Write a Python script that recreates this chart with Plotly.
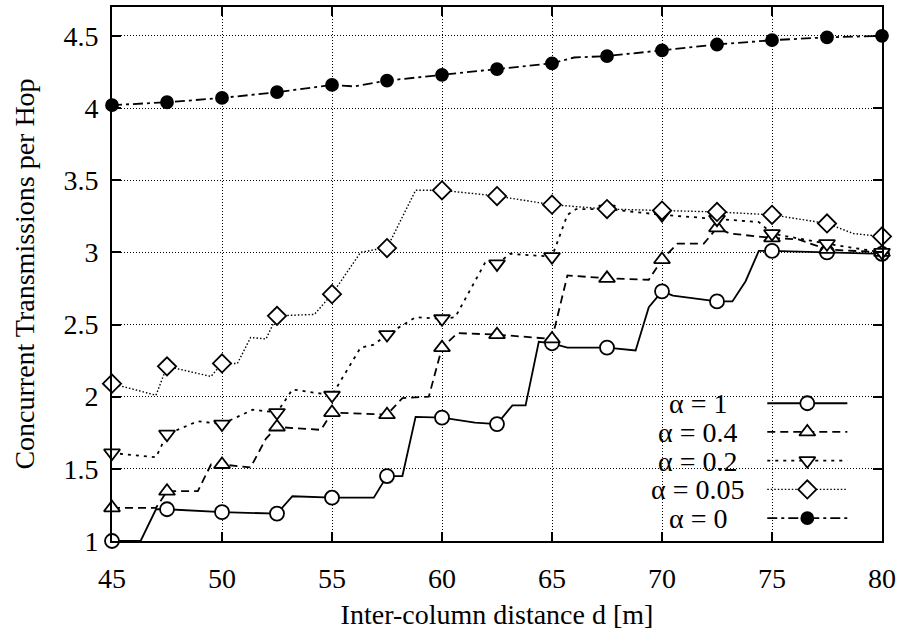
import plotly.graph_objects as go

# ---------------- data ----------------
x_a1 = [45, 46.3, 47.0, 47.5, 50, 52.5, 53.2, 55, 56.9, 57.5, 58.2, 58.8, 60, 61.5, 62.5,
        63.2, 63.8, 64.4, 65, 65.7, 67.5, 68.8, 69.4, 70, 70.5, 72.5, 73.2, 73.8, 74.4, 75, 77.5, 80]
y_a1 = [1.00, 1.00, 1.22, 1.22, 1.20, 1.19, 1.31, 1.30, 1.30, 1.45, 1.45, 1.86, 1.855, 1.82, 1.81,
        1.94, 1.94, 2.38, 2.37, 2.34, 2.34, 2.32, 2.62, 2.73, 2.70, 2.66, 2.66, 2.80, 3.01, 3.01, 3.00, 2.99]

x_a04 = [45, 47.0, 47.5, 48.9, 49.5, 50, 51.3, 52.0, 52.5, 53.5, 54.5, 55, 57.5, 58.2, 59.4, 60,
         60.7, 62.5, 65, 65.7, 67.5, 69.4, 70, 70.7, 71.9, 72.5, 73.1, 75, 76.2, 77.5, 80]
y_a04 = [1.23, 1.23, 1.345, 1.345, 1.53, 1.53, 1.51, 1.71, 1.79, 1.78, 1.77, 1.89, 1.875, 1.99, 2.00, 2.34,
         2.44, 2.43, 2.40, 2.84, 2.82, 2.81, 2.95, 3.06, 3.06, 3.17, 3.13, 3.10, 3.09, 3.02, 3.00]

x_a02 = [45, 47.0, 47.5, 48.9, 50, 51.4, 52.5, 53.2, 55, 56.3, 56.9, 57.5, 58.8, 60, 60.6, 62.0,
         62.5, 63.1, 65, 65.7, 66.1, 67.5, 70, 72.5, 74.4, 75, 77.5, 80]
y_a02 = [1.61, 1.58, 1.74, 1.83, 1.81, 1.91, 1.89, 2.05, 2.01, 2.34, 2.36, 2.43, 2.55, 2.54, 2.55, 2.94,
         2.92, 2.99, 2.97, 3.26, 3.30, 3.30, 3.26, 3.23, 3.21, 3.13, 3.06, 3.00]

x_a005 = [45, 47.0, 47.5, 49.5, 50, 50.7, 51.3, 52.0, 52.5, 54.2, 55, 56.3, 57.0, 57.5, 58.8, 60,
          62.5, 65, 67.5, 70, 72.5, 75, 77.5, 78.7, 80]
y_a005 = [2.09, 2.01, 2.21, 2.14, 2.23, 2.23, 2.41, 2.40, 2.56, 2.57, 2.71, 3.00, 3.02, 3.03, 3.43, 3.43,
          3.39, 3.33, 3.30, 3.29, 3.28, 3.26, 3.20, 3.13, 3.11]

x_a0 = [45, 47.5, 50, 52.5, 55, 56, 57.5, 60, 62.5, 65, 66, 67.5, 70, 72.5, 75, 77.5, 80]
y_a0 = [4.02, 4.04, 4.07, 4.11, 4.16, 4.15, 4.19, 4.23, 4.27, 4.31, 4.35, 4.36, 4.40, 4.44, 4.47, 4.49, 4.50]

series_names = ["α = 1", "α = 0.4", "α = 0.2", "α = 0.05", "α = 0"]
marker_step = 2.5

x_ticks = [45, 50, 55, 60, 65, 70, 75, 80]
y_ticks = [1, 1.5, 2, 2.5, 3, 3.5, 4, 4.5]

# ---------------- styles ----------------
FONT = "Liberation Serif"
FS = 28
styles = [
    dict(dash="solid", symbol="circle", lw=1.8, fill="white", size=14),
    dict(dash="8px,5px", symbol="triangle-up", lw=1.8, fill="white", size=14),
    dict(dash="3px,5px", symbol="triangle-down", lw=1.8, fill="white", size=14),
    dict(dash="1.5px,2px", symbol="diamond", lw=1.4, fill="white", size=14),
    dict(dash="10px,4px,3px,4px", symbol="circle", lw=1.8, fill="black", size=12),
]
data = [(x_a1, y_a1), (x_a04, y_a04), (x_a02, y_a02), (x_a005, y_a005), (x_a0, y_a0)]


def on_step(x):
    return abs(x / marker_step - round(x / marker_step)) < 1e-9


fig = go.Figure()
for (xs, ys), st in zip(data, styles):
    fig.add_trace(go.Scatter(x=xs, y=ys, mode="lines",
                             line=dict(color="black", width=st["lw"], dash=st["dash"]),
                             showlegend=False, hoverinfo="skip"))
    mx = [x for x in xs if on_step(x)]
    my = [y for x, y in zip(xs, ys) if on_step(x)]
    fig.add_trace(go.Scatter(x=mx, y=my, mode="markers", cliponaxis=False,
                             marker=dict(symbol=st["symbol"], size=st["size"], color=st["fill"],
                                         line=dict(color="black", width=1.8)),
                             showlegend=False))

# ---------------- key (gnuplot-style, text left of sample) ----------------
key_rows = [0.258, 0.2042, 0.1504, 0.0966, 0.0428]
key_x0, key_xm, key_x1, key_tx = 0.851, 0.903, 0.955, 0.761
for name, st, ry in zip(series_names, styles, key_rows):
    fig.add_trace(go.Scatter(x=[key_x0, key_x1], y=[ry, ry], mode="lines", xaxis="x2", yaxis="y2",
                             line=dict(color="black", width=st["lw"], dash=st["dash"]),
                             showlegend=False, hoverinfo="skip"))
    fig.add_trace(go.Scatter(x=[key_xm], y=[ry], mode="markers", xaxis="x2", yaxis="y2",
                             marker=dict(symbol=st["symbol"], size=st["size"], color=st["fill"],
                                         line=dict(color="black", width=1.8)),
                             showlegend=False, hoverinfo="skip"))
    fig.add_annotation(x=key_tx, y=ry, xref="paper", yref="paper", text=name, showarrow=False,
                       xanchor="center", yanchor="middle", height=26, borderpad=0,
                       font=dict(family=FONT, size=FS, color="black"))

fig.add_shape(type="rect", xref="paper", yref="paper", x0=0.647, x1=0.979, y0=0.015, y1=0.284,
              fillcolor="white", line=dict(width=0), layer="between")

axis_common = dict(showline=True, linecolor="black", linewidth=2, mirror="ticks",
                   ticks="inside", ticklen=9, tickwidth=1.5, tickcolor="black",
                   showgrid=True, gridcolor="black", gridwidth=1, griddash="1px,2px",
                   zeroline=False, tickfont=dict(family=FONT, size=FS, color="black"))

fig.update_layout(
    width=903, height=631,
    margin=dict(l=112, r=21, t=5, b=90),
    paper_bgcolor="white", plot_bgcolor="white",
    showlegend=False,
    xaxis=dict(range=[45, 80], tickvals=x_ticks, ticklabelstandoff=11,
               title=dict(text="Inter-column distance d [m]", font=dict(family=FONT, size=FS, color="black"),
                          standoff=12),
               **axis_common),
    yaxis=dict(range=[1, 4.7], tickvals=y_ticks, ticklabelstandoff=6,
               title=dict(text="Concurrent Transmissions per Hop", font=dict(family=FONT, size=FS, color="black"),
                          standoff=21),
               **axis_common),
    xaxis2=dict(range=[0, 1], overlaying="x", visible=False),
    yaxis2=dict(range=[0, 1], overlaying="y", visible=False),
)

fig.write_html("out.html")
